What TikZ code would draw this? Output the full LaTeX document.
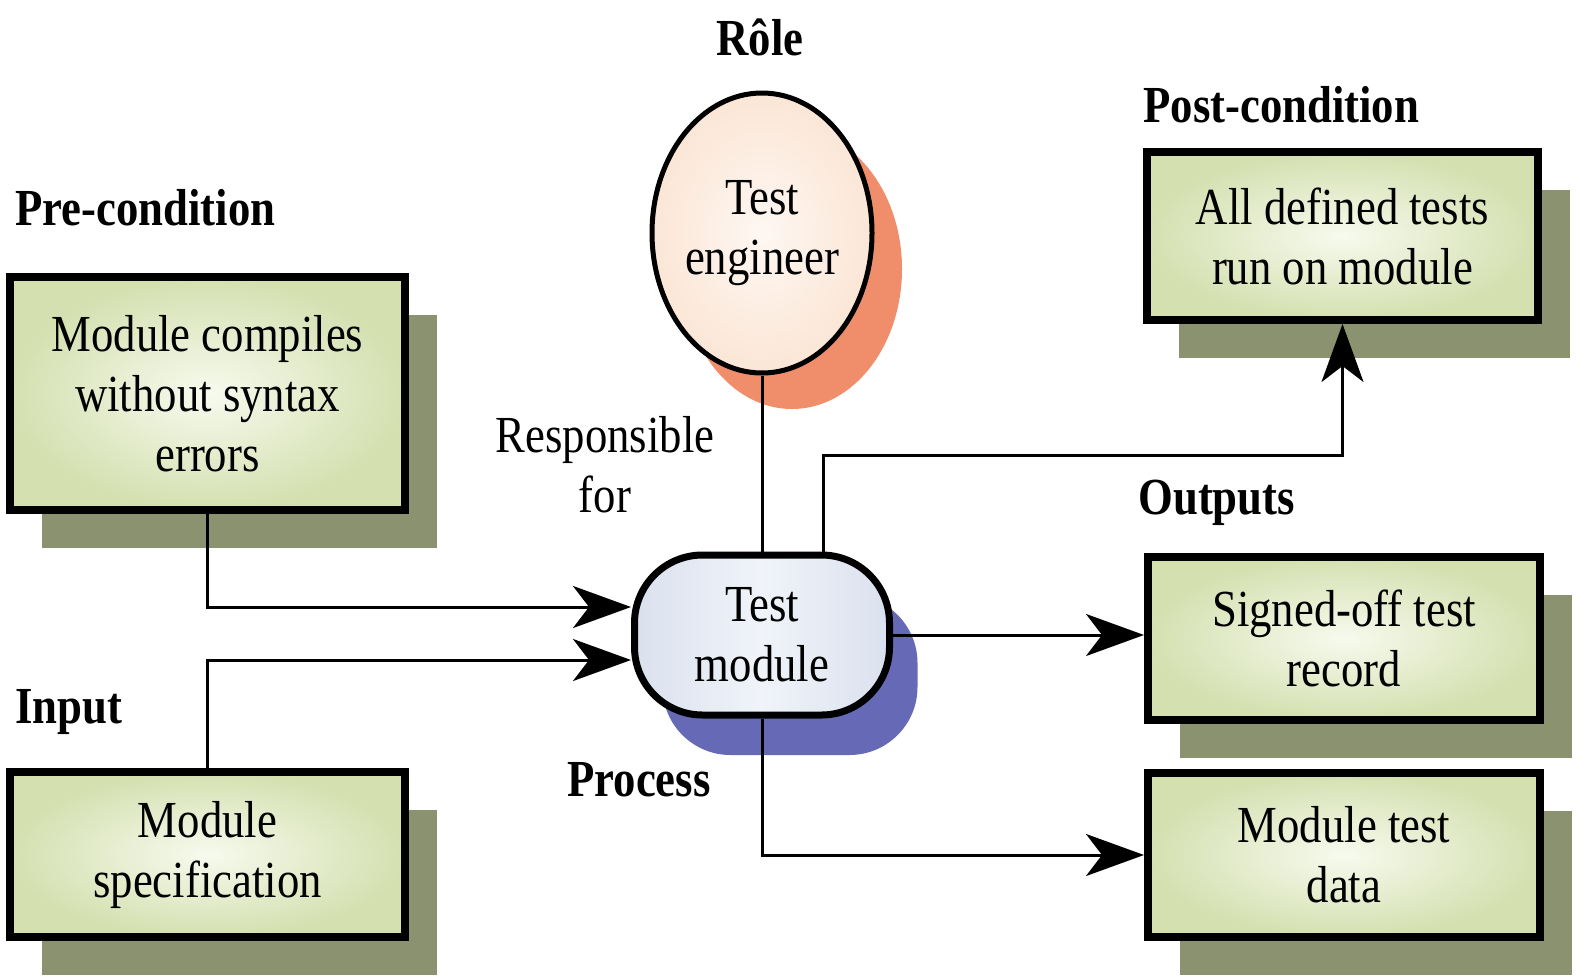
\documentclass[tikz,border=0pt]{standalone}
\usepackage{fontspec}
\setmainfont{Liberation Serif}[FakeStretch=0.86]
\usetikzlibrary{arrows.meta,shadows,shapes.geometric}

\definecolor{boxedge}{RGB}{212,224,176}
\definecolor{boxmid}{RGB}{247,250,238}
\definecolor{boxshadow}{RGB}{138,146,112}
\definecolor{roleedge}{RGB}{251,230,214}
\definecolor{rolemid}{RGB}{254,247,242}
\definecolor{roleshadow}{RGB}{240,142,108}
\definecolor{procfill}{RGB}{218,225,238}
\definecolor{procmid}{RGB}{240,243,249}
\definecolor{procshadow}{RGB}{102,106,182}

\begin{document}
\begin{tikzpicture}[x=0.5pt,y=-0.5pt,
  txt/.style={font=\fontsize{26}{30}\selectfont, align=center, inner sep=0pt},
  head/.style={font=\fontsize{26}{30}\selectfont\bfseries, inner sep=0pt},
  itembox/.style={txt, draw=black, line width=4pt, shading=radial,
    inner color=boxmid, outer color=boxedge,
    general shadow={fill=boxshadow, opacity=1, shadow xshift=16pt, shadow yshift=-19pt}},
  rolenode/.style={txt, ellipse, draw=black, line width=2.5pt, shading=radial,
    inner color=rolemid, outer color=roleedge,
    minimum width=110pt, minimum height=140pt,
    general shadow={fill=roleshadow, opacity=1, shadow xshift=15pt, shadow yshift=-18pt}},
  procnode/.style={txt, rectangle, rounded corners=34pt, draw=black, line width=3.5pt,
    left color=procfill, right color=procfill, middle color=procmid,
    minimum width=127.5pt, minimum height=80pt,
    general shadow={fill=procshadow, opacity=1, shadow xshift=14pt, shadow yshift=-20pt}},
  link/.style={line width=1.5pt, draw=black},
  arr/.style={link, -{Stealth[length=29pt, width=21pt, inset=8pt]}}
]
\useasboundingbox (0,0) rectangle (1579,975);

% item boxes
\node[itembox, minimum width=197.5pt, minimum height=116.5pt] (pre) at (207.5,393.5)
  {Module compiles\\without syntax\\errors};
\node[itembox, minimum width=197.5pt, minimum height=82.5pt] (inp) at (207.5,854.5)
  {Module\\specification};
\node[itembox, minimum width=195.5pt, minimum height=84pt] (post) at (1342.5,236)
  {All defined tests\\run on module};
\node[itembox, minimum width=196pt, minimum height=81.5pt] (signed) at (1344,638.5)
  {Signed-off test\\record};
\node[itembox, minimum width=196pt, minimum height=82pt] (data) at (1344,855)
  {Module test\\data};

% role and process
\node[rolenode] (eng) at (762,233) {Test\\engineer};
\node[procnode] (mod) at (762,635) {Test\\module};

% labels
\node[head] (rolelbl) at (760,37) {Rôle};
\node[head, anchor=west] (postlbl) at (1143,105) {Post-condition};
\node[head, anchor=west] (prelbl) at (15,208) {Pre-condition};
\node[head, anchor=west] (inlbl) at (15,712) {Input};
\node[head, anchor=west] (outlbl) at (1138,503) {Outputs};
\node[head, anchor=west] (proclbl) at (567,780) {Process};
\node[txt] (resp) at (605,465) {Responsible\\for};

% connectors
\coordinate (bend) at (823,455);
\draw[link] (eng) -- (mod);
\draw[arr] (mod.north -| bend) -- (bend) -| (post.south);
\draw[arr] (pre.south) |- ([yshift=14pt]mod.west);
\draw[arr] (inp.north) |- ([yshift=-12.5pt]mod.west);
\draw[arr] (mod.east) -- (mod.east -| signed.west);
\draw[arr] (mod.south) |- (data.west);
\end{tikzpicture}
\end{document}
